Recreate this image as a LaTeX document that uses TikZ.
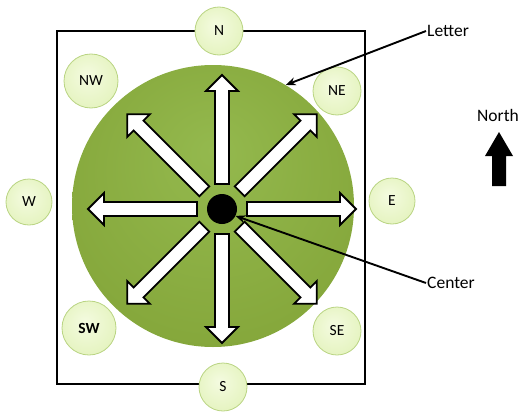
\documentclass[tikz,border=0pt]{standalone}
\usepackage{fontspec}
\setmainfont{Carlito}
\usetikzlibrary{arrows.meta,positioning}
\definecolor{wheellight}{HTML}{94B94E}
\definecolor{wheelgreen}{HTML}{86A83C}
\definecolor{wheeldark}{HTML}{74962E}
\definecolor{budlight}{HTML}{F4FBE0}
\definecolor{budmid}{HTML}{E4F3BE}
\definecolor{budedge}{HTML}{CFE69C}
\definecolor{budline}{HTML}{B9D482}
\pgfdeclareradialshading{wheelshade}{\pgfpoint{0bp}{10bp}}{color(0bp)=(wheellight); color(28bp)=(wheelgreen); color(50bp)=(wheeldark)}
\pgfdeclareradialshading{budshade}{\pgfpoint{-4bp}{6bp}}{color(0bp)=(budlight); color(30bp)=(budmid); color(50bp)=(budedge)}
\tikzset{
  bud/.style={circle, shade, shading=budshade, draw=budline, line width=0.8pt, inner sep=0pt, minimum size=48pt, font=\fontsize{15.5}{18}\selectfont},
  hub/.style={circle, fill=black, inner sep=0pt, minimum size=30pt},
  spoke/.style={draw=black, fill=white, line width=1.8pt, line join=miter},
  pointer/.style={-{Stealth[length=10pt,width=8pt]}, line width=1.9pt},
  tag/.style={font=\fontsize{17.5}{20}\selectfont, inner sep=1pt},
}
\begin{document}
\begin{tikzpicture}[x=1pt, y=-1pt]
  \useasboundingbox (0,0) rectangle (521,412);
  \draw[line width=1.4pt] (57,31) rectangle (365,384);

  % big wheel with its spokes
  \node[circle, shade, shading=wheelshade, inner sep=0pt, minimum size=282pt] (wheel) at (213,206) {};
  \foreach \a in {0,45,...,315} {
    \begin{scope}[shift={(222,209)}, rotate=\a]
      \draw[spoke] (25,-7) -- (118,-7) -- (118,-16) -- (134,0) -- (118,16) -- (118,7) -- (25,7) -- cycle;
    \end{scope}
  }
  \node[hub] (hub) at (222,209) {};

  % direction letters
  \node[bud] (n) at (219,31) {N};
  \node[bud, minimum size=54pt] (nw) at (91,81) {NW};
  \node[bud] (ne) at (337,91) {NE};
  \node[bud, minimum size=46pt] (w) at (29,202) {W};
  \node[bud, minimum size=46pt] (e) at (392,201) {E};
  \node[bud, minimum size=54pt, font=\fontsize{15.5}{18}\selectfont\bfseries] (sw) at (89,328) {SW};
  \node[bud] (se) at (337,331) {SE};
  \node[bud] (s) at (223,387) {S};

  % callouts
  \node[tag, anchor=west] (letter) at (426,31) {Letter};
  \node[tag, anchor=west] (center) at (426,283) {Center};
  \draw[pointer] (letter.west) -- (wheel.59);
  \draw[pointer] (center.west) -- (hub.-27);

  % north marker
  \node[tag] (north) at (498,115) {North};
  \fill (499,132) -- (513,156) -- (506,156) -- (506,186) -- (492,186) -- (492,156) -- (485,156) -- cycle;
\end{tikzpicture}
\end{document}
